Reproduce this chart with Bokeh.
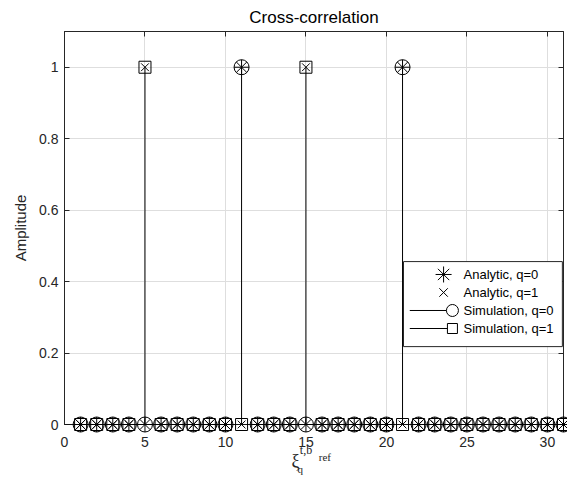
from bokeh.plotting import figure
from bokeh.models import FixedTicker, LinearAxis, Range1d, Span
from bokeh.core.properties import value
from bokeh.embed import file_html
from bokeh.resources import INLINE

# ---------------- data ----------------
xi = [1, 2, 3, 4, 5, 6, 7, 8, 9, 10, 11, 12, 13, 14, 15, 16,
      17, 18, 19, 20, 21, 22, 23, 24, 25, 26, 27, 28, 29, 30, 31]
analytic_q0 = [0, 0, 0, 0, 0, 0, 0, 0, 0, 0, 1, 0, 0, 0, 0, 0,
               0, 0, 0, 0, 1, 0, 0, 0, 0, 0, 0, 0, 0, 0, 0]
analytic_q1 = [0, 0, 0, 0, 1, 0, 0, 0, 0, 0, 0, 0, 0, 0, 1, 0,
               0, 0, 0, 0, 0, 0, 0, 0, 0, 0, 0, 0, 0, 0, 0]
simulation_q0 = [0, 0, 0, 0, 0, 0, 0, 0, 0, 0, 1, 0, 0, 0, 0, 0,
                 0, 0, 0, 0, 1, 0, 0, 0, 0, 0, 0, 0, 0, 0, 0]
simulation_q1 = [0, 0, 0, 0, 1, 0, 0, 0, 0, 0, 0, 0, 0, 0, 1, 0,
                 0, 0, 0, 0, 0, 0, 0, 0, 0, 0, 0, 0, 0, 0, 0]
baseline = [0] * len(xi)

series_labels = ["Analytic, q=0", "Analytic, q=1",
                 "Simulation, q=0", "Simulation, q=1"]
x_ticks = [0, 5, 10, 15, 20, 25, 30]
y_ticks = [0, 0.2, 0.4, 0.6, 0.8, 1]
y_tick_labels = ["0", "0.2", "0.4", "0.6", "0.8", "1"]

AX = "#262626"
FONT = "Liberation Sans"
SERIF = "Liberation Serif"

p = figure(frame_width=499, frame_height=393,
           x_range=Range1d(0, 31), y_range=Range1d(0, 1.1),
           output_backend="svg", toolbar_location=None,
           min_border_left=64, min_border_right=4, min_border_top=27,
           min_border_bottom=52, background_fill_color="white",
           border_fill_color="white")

p.title.text = "Cross-correlation"
p.title.align = "center"
p.title.text_font = FONT
p.title.text_font_size = "17px"
p.title.text_font_style = "normal"
p.title.text_color = "black"

p.outline_line_color = AX
p.outline_line_width = 1

for ax in (p.xaxis[0], p.yaxis[0]):
    ax.axis_line_color = AX
    ax.major_tick_line_color = AX
    ax.major_tick_in = 5
    ax.major_tick_out = 0
    ax.minor_tick_line_color = None
    ax.major_label_text_font = FONT
    ax.major_label_text_font_size = "14px"
    ax.major_label_text_color = AX
    ax.axis_label_text_font = FONT
    ax.axis_label_text_font_style = "normal"
    ax.axis_label_text_color = AX

p.xaxis.ticker = FixedTicker(ticks=x_ticks)
p.yaxis.ticker = FixedTicker(ticks=y_ticks)
p.yaxis.major_label_overrides = {t: s for t, s in zip(y_ticks, y_tick_labels)}
p.xaxis.major_label_standoff = 12
p.yaxis.major_label_standoff = 6
p.yaxis.axis_label = "Amplitude"
p.yaxis.axis_label_text_font_size = "15px"
p.yaxis.axis_label_standoff = 7

# box-style ticks on top/right (no labels drawn)
for side, tk in (("right", y_ticks), ("above", x_ticks)):
    a = LinearAxis(ticker=FixedTicker(ticks=tk),
                   major_label_text_font_size="0px", major_label_text_color=None,
                   major_label_standoff=0,
                   axis_line_color=AX, major_tick_line_color=AX,
                   major_tick_in=5, major_tick_out=0,
                   minor_tick_line_color=None)
    p.add_layout(a, side)

p.xgrid.ticker = FixedTicker(ticks=x_ticks)
p.ygrid.ticker = FixedTicker(ticks=y_ticks)
p.grid.grid_line_color = "#dedede"
p.grid.grid_line_width = 1

# stem baseline
p.add_layout(Span(location=0, dimension="width", line_color="black", line_width=1))

# stems (simulation)
p.segment(x0=xi, y0=baseline, x1=xi, y1=simulation_q0, line_color="black", line_width=1)
p.segment(x0=xi, y0=baseline, x1=xi, y1=simulation_q1, line_color="black", line_width=1)

# markers (overlay level so those on y=0 are not clipped by the frame)
p.scatter(xi, analytic_q0, marker="asterisk", size=15,
          line_color="black", line_width=1, level="overlay")
p.scatter(xi, analytic_q1, marker="x", size=11,
          line_color="black", line_width=1, level="overlay")
p.scatter(xi, simulation_q0, marker="circle", size=15,
          line_color="black", fill_color=None, line_width=1, level="overlay")
p.scatter(xi, simulation_q1, marker="square", size=12,
          line_color="black", fill_color=None, line_width=1, level="overlay")

# ---------------- legend (drawn by hand) ----------------
p.quad(left=[21.06], right=[30.93], bottom=[0.218], top=[0.456],
       fill_color="white", line_color=AX, line_width=1, level="overlay")
row_y = [0.4199, 0.3695, 0.3191, 0.2687]
mk_x = 23.55
p.scatter([mk_x], [row_y[0]], marker="asterisk", size=16,
          line_color="black", line_width=1, level="overlay")
p.scatter([mk_x], [row_y[1]], marker="x", size=12,
          line_color="black", line_width=1, level="overlay")
p.segment(x0=[21.45, 21.45], y0=row_y[2:], x1=[23.73, 23.79], y1=row_y[2:],
          line_color="black", line_width=1, level="overlay")
p.scatter([24.10], [row_y[2]], marker="circle", size=12,
          line_color="black", fill_color=None, line_width=1, level="overlay")
p.scatter([24.10], [row_y[3]], marker="square", size=10,
          line_color="black", fill_color=None, line_width=1, level="overlay")
p.text(x=[24.79] * 4, y=row_y, text=series_labels,
       text_font=value(FONT), text_font_size="13px", text_color="black",
       text_align="left", text_baseline="middle", level="overlay")

# ---------------- x-axis label: xi_q^{t,b}_ref ----------------
p.text(x=[14.10], y=[-0.1008], text=["\u03be"], text_font=value(SERIF),
       text_font_size="18px", text_color=AX, text_align="left",
       text_baseline="middle", level="overlay")
p.text(x=[14.62], y=[-0.070], text=["t,b"], text_font=value(SERIF),
       text_font_size="12px", text_color=AX, text_align="left",
       text_baseline="middle", level="overlay")
p.text(x=[14.47], y=[-0.125], text=["q"], text_font=value(SERIF),
       text_font_size="11px", text_color=AX, text_align="left",
       text_baseline="middle", level="overlay")
p.text(x=[15.80], y=[-0.092], text=["ref"], text_font=value(SERIF),
       text_font_size="11px", text_color=AX, text_align="left",
       text_baseline="middle", level="overlay")

open("out.html", "w").write(file_html(p, INLINE))
